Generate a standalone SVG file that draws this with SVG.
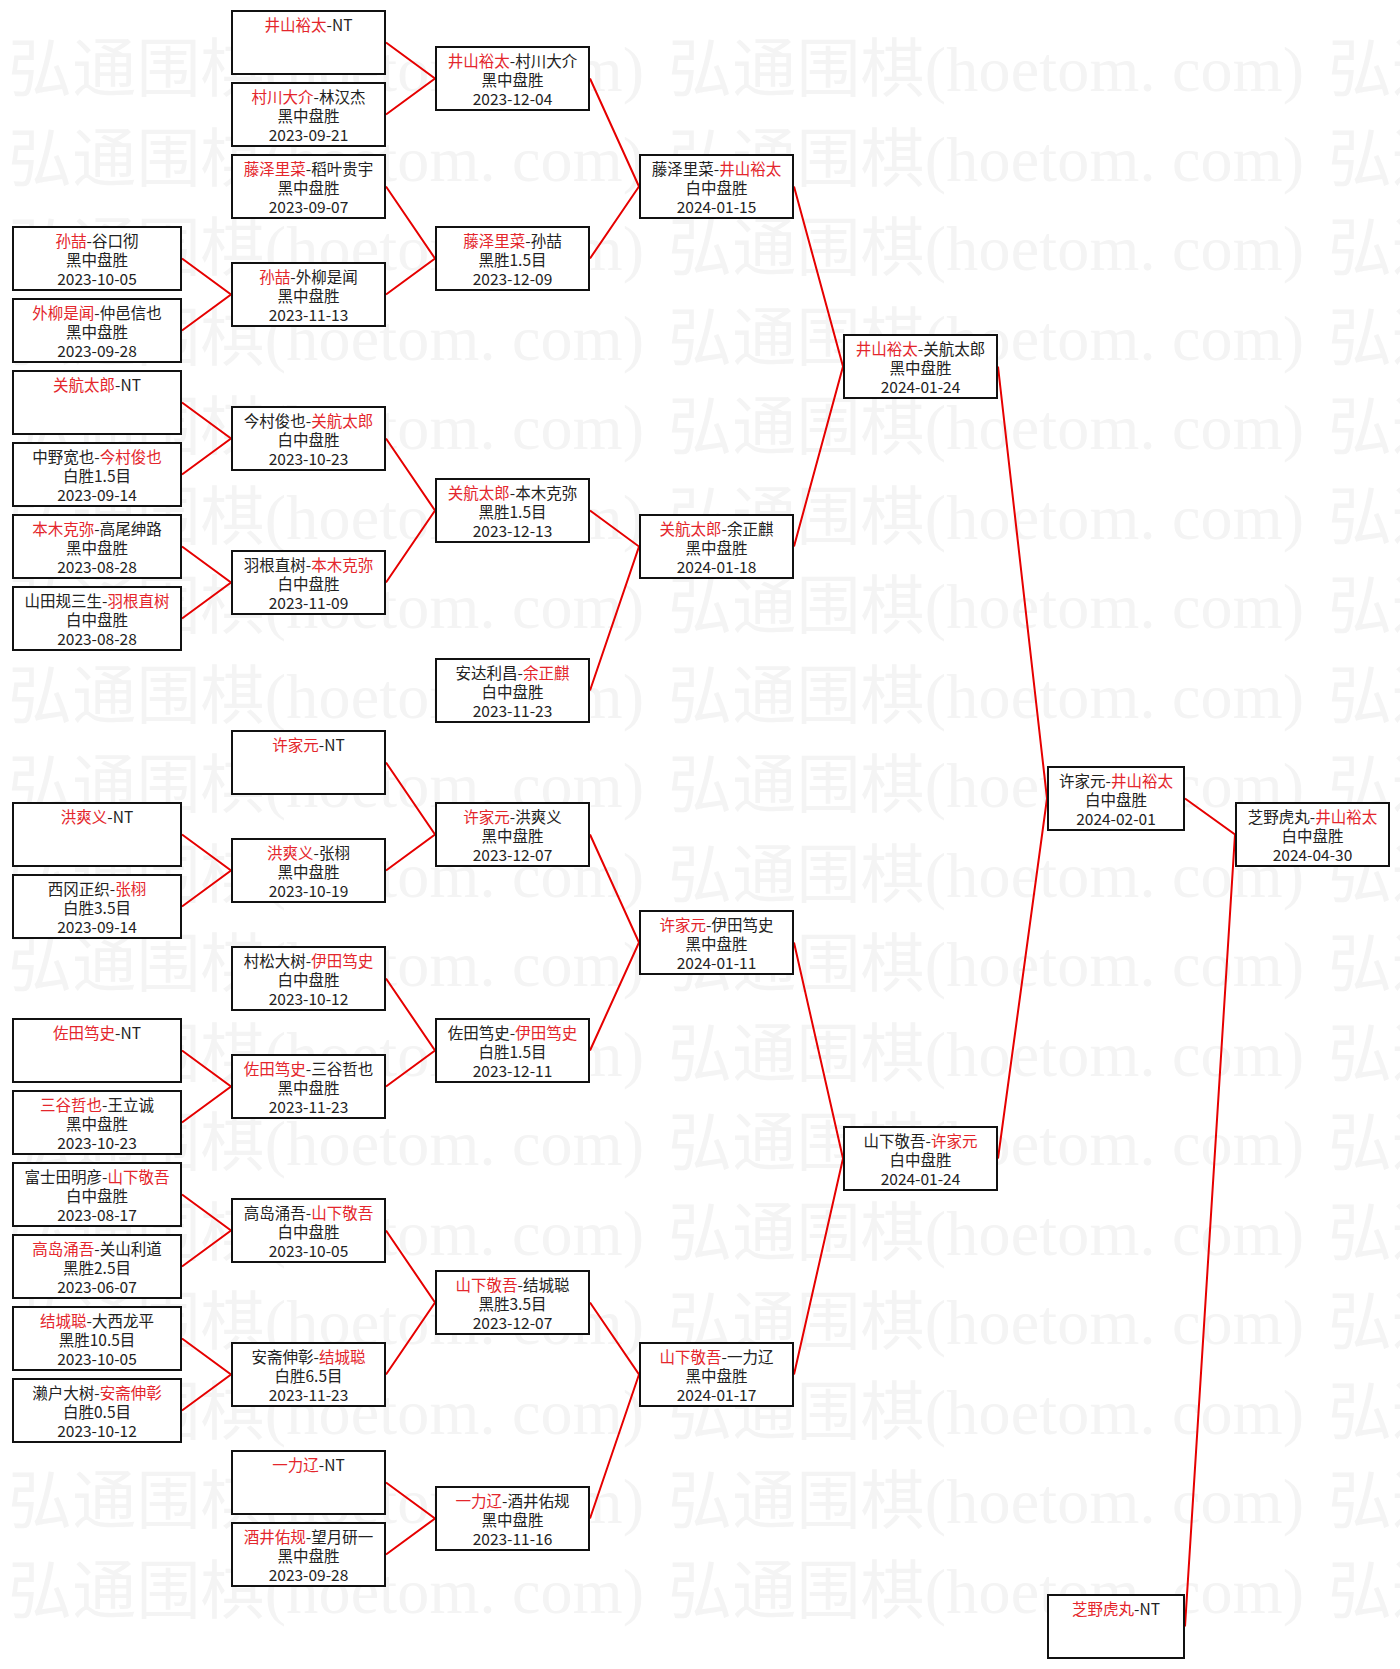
<svg xmlns="http://www.w3.org/2000/svg" width="1400" height="1669" viewBox="0 0 1400 1669">
<style>
.wm{font-family:"Liberation Serif","Noto Sans CJK SC",serif;font-size:64px;fill:#f4f4f4}
.node rect{fill:#fff;stroke:#111;stroke-width:2}
.node text{font-family:"Noto Sans CJK SC","Noto Sans",sans-serif;font-size:15.5px;fill:#222;text-anchor:middle}
.node .r{fill:#e4262c}
.links path{fill:none;stroke:#e60000;stroke-width:2}
</style>
<rect x="0" y="0" width="1400" height="1669" fill="#fff"/>
<g id="watermark" class="wm">
<text y="91"><tspan x="8" textLength="636" lengthAdjust="spacing">弘通围棋(hoetom. com)</tspan><tspan x="668" textLength="636" lengthAdjust="spacing">弘通围棋(hoetom. com)</tspan><tspan x="1328">弘通</tspan></text>
<text y="180.5"><tspan x="8" textLength="636" lengthAdjust="spacing">弘通围棋(hoetom. com)</tspan><tspan x="668" textLength="636" lengthAdjust="spacing">弘通围棋(hoetom. com)</tspan><tspan x="1328">弘通</tspan></text>
<text y="270"><tspan x="8" textLength="636" lengthAdjust="spacing">弘通围棋(hoetom. com)</tspan><tspan x="668" textLength="636" lengthAdjust="spacing">弘通围棋(hoetom. com)</tspan><tspan x="1328">弘通</tspan></text>
<text y="359.5"><tspan x="8" textLength="636" lengthAdjust="spacing">弘通围棋(hoetom. com)</tspan><tspan x="668" textLength="636" lengthAdjust="spacing">弘通围棋(hoetom. com)</tspan><tspan x="1328">弘通</tspan></text>
<text y="449"><tspan x="8" textLength="636" lengthAdjust="spacing">弘通围棋(hoetom. com)</tspan><tspan x="668" textLength="636" lengthAdjust="spacing">弘通围棋(hoetom. com)</tspan><tspan x="1328">弘通</tspan></text>
<text y="538.5"><tspan x="8" textLength="636" lengthAdjust="spacing">弘通围棋(hoetom. com)</tspan><tspan x="668" textLength="636" lengthAdjust="spacing">弘通围棋(hoetom. com)</tspan><tspan x="1328">弘通</tspan></text>
<text y="628"><tspan x="8" textLength="636" lengthAdjust="spacing">弘通围棋(hoetom. com)</tspan><tspan x="668" textLength="636" lengthAdjust="spacing">弘通围棋(hoetom. com)</tspan><tspan x="1328">弘通</tspan></text>
<text y="717.5"><tspan x="8" textLength="636" lengthAdjust="spacing">弘通围棋(hoetom. com)</tspan><tspan x="668" textLength="636" lengthAdjust="spacing">弘通围棋(hoetom. com)</tspan><tspan x="1328">弘通</tspan></text>
<text y="807"><tspan x="8" textLength="636" lengthAdjust="spacing">弘通围棋(hoetom. com)</tspan><tspan x="668" textLength="636" lengthAdjust="spacing">弘通围棋(hoetom. com)</tspan><tspan x="1328">弘通</tspan></text>
<text y="896.5"><tspan x="8" textLength="636" lengthAdjust="spacing">弘通围棋(hoetom. com)</tspan><tspan x="668" textLength="636" lengthAdjust="spacing">弘通围棋(hoetom. com)</tspan><tspan x="1328">弘通</tspan></text>
<text y="986"><tspan x="8" textLength="636" lengthAdjust="spacing">弘通围棋(hoetom. com)</tspan><tspan x="668" textLength="636" lengthAdjust="spacing">弘通围棋(hoetom. com)</tspan><tspan x="1328">弘通</tspan></text>
<text y="1075.5"><tspan x="8" textLength="636" lengthAdjust="spacing">弘通围棋(hoetom. com)</tspan><tspan x="668" textLength="636" lengthAdjust="spacing">弘通围棋(hoetom. com)</tspan><tspan x="1328">弘通</tspan></text>
<text y="1165"><tspan x="8" textLength="636" lengthAdjust="spacing">弘通围棋(hoetom. com)</tspan><tspan x="668" textLength="636" lengthAdjust="spacing">弘通围棋(hoetom. com)</tspan><tspan x="1328">弘通</tspan></text>
<text y="1254.5"><tspan x="8" textLength="636" lengthAdjust="spacing">弘通围棋(hoetom. com)</tspan><tspan x="668" textLength="636" lengthAdjust="spacing">弘通围棋(hoetom. com)</tspan><tspan x="1328">弘通</tspan></text>
<text y="1344"><tspan x="8" textLength="636" lengthAdjust="spacing">弘通围棋(hoetom. com)</tspan><tspan x="668" textLength="636" lengthAdjust="spacing">弘通围棋(hoetom. com)</tspan><tspan x="1328">弘通</tspan></text>
<text y="1433.5"><tspan x="8" textLength="636" lengthAdjust="spacing">弘通围棋(hoetom. com)</tspan><tspan x="668" textLength="636" lengthAdjust="spacing">弘通围棋(hoetom. com)</tspan><tspan x="1328">弘通</tspan></text>
<text y="1523"><tspan x="8" textLength="636" lengthAdjust="spacing">弘通围棋(hoetom. com)</tspan><tspan x="668" textLength="636" lengthAdjust="spacing">弘通围棋(hoetom. com)</tspan><tspan x="1328">弘通</tspan></text>
<text y="1612.5"><tspan x="8" textLength="636" lengthAdjust="spacing">弘通围棋(hoetom. com)</tspan><tspan x="668" textLength="636" lengthAdjust="spacing">弘通围棋(hoetom. com)</tspan><tspan x="1328">弘通</tspan></text>
</g>
<g id="connectors" class="links">
<path d="M182 258.5L231 294.5L182 330.5"/>
<path d="M182 402.5L231 438.5L182 474.5"/>
<path d="M182 546.5L231 582.5L182 618.5"/>
<path d="M182 834.5L231 870.5L182 906.5"/>
<path d="M182 1050.5L231 1086.5L182 1122.5"/>
<path d="M182 1194.5L231 1230.5L182 1266.5"/>
<path d="M182 1338.5L231 1374.5L182 1410.5"/>
<path d="M386 42.5L435 78.5L386 114.5"/>
<path d="M386 186.5L435 258.5L386 294.5"/>
<path d="M386 438.5L435 510.5L386 582.5"/>
<path d="M386 762.5L435 834.5L386 870.5"/>
<path d="M386 978.5L435 1050.5L386 1086.5"/>
<path d="M386 1230.5L435 1302.5L386 1374.5"/>
<path d="M386 1482.5L435 1518.5L386 1554.5"/>
<path d="M590 78.5L639 186.5L590 258.5"/>
<path d="M590 510.5L639 546.5L590 690.5"/>
<path d="M590 834.5L639 942.5L590 1050.5"/>
<path d="M590 1302.5L639 1374.5L590 1518.5"/>
<path d="M794 186.5L843 366.5L794 546.5"/>
<path d="M794 942.5L843 1158.5L794 1374.5"/>
<path d="M998 366.5L1047 798.5L998 1158.5"/>
<path d="M1185 798.5L1235 834.5L1185 1626.5"/>
</g>
<!-- column 0 -->
<g id="c0-1" class="node"><rect x="13" y="227" width="168" height="63"/><text x="97" y="246.5"><tspan class="r">孙喆</tspan>-谷口彻</text><text x="97" y="265.5">黑中盘胜</text><text x="97" y="284.5">2023-10-05</text></g>
<g id="c0-2" class="node"><rect x="13" y="299" width="168" height="63"/><text x="97" y="318.5"><tspan class="r">外柳是闻</tspan>-仲邑信也</text><text x="97" y="337.5">黑中盘胜</text><text x="97" y="356.5">2023-09-28</text></g>
<g id="c0-3" class="node"><rect x="13" y="371" width="168" height="63"/><text x="97" y="390.5"><tspan class="r">关航太郎</tspan>-NT</text></g>
<g id="c0-4" class="node"><rect x="13" y="443" width="168" height="63"/><text x="97" y="462.5">中野宽也-<tspan class="r">今村俊也</tspan></text><text x="97" y="481.5">白胜1.5目</text><text x="97" y="500.5">2023-09-14</text></g>
<g id="c0-5" class="node"><rect x="13" y="515" width="168" height="63"/><text x="97" y="534.5"><tspan class="r">本木克弥</tspan>-高尾绅路</text><text x="97" y="553.5">黑中盘胜</text><text x="97" y="572.5">2023-08-28</text></g>
<g id="c0-6" class="node"><rect x="13" y="587" width="168" height="63"/><text x="97" y="606.5">山田规三生-<tspan class="r">羽根直树</tspan></text><text x="97" y="625.5">白中盘胜</text><text x="97" y="644.5">2023-08-28</text></g>
<g id="c0-7" class="node"><rect x="13" y="803" width="168" height="63"/><text x="97" y="822.5"><tspan class="r">洪爽义</tspan>-NT</text></g>
<g id="c0-8" class="node"><rect x="13" y="875" width="168" height="63"/><text x="97" y="894.5">西冈正织-<tspan class="r">张栩</tspan></text><text x="97" y="913.5">白胜3.5目</text><text x="97" y="932.5">2023-09-14</text></g>
<g id="c0-9" class="node"><rect x="13" y="1019" width="168" height="63"/><text x="97" y="1038.5"><tspan class="r">佐田笃史</tspan>-NT</text></g>
<g id="c0-10" class="node"><rect x="13" y="1091" width="168" height="63"/><text x="97" y="1110.5"><tspan class="r">三谷哲也</tspan>-王立诚</text><text x="97" y="1129.5">黑中盘胜</text><text x="97" y="1148.5">2023-10-23</text></g>
<g id="c0-11" class="node"><rect x="13" y="1163" width="168" height="63"/><text x="97" y="1182.5">富士田明彦-<tspan class="r">山下敬吾</tspan></text><text x="97" y="1201.5">白中盘胜</text><text x="97" y="1220.5">2023-08-17</text></g>
<g id="c0-12" class="node"><rect x="13" y="1235" width="168" height="63"/><text x="97" y="1254.5"><tspan class="r">高岛涌吾</tspan>-关山利道</text><text x="97" y="1273.5">黑胜2.5目</text><text x="97" y="1292.5">2023-06-07</text></g>
<g id="c0-13" class="node"><rect x="13" y="1307" width="168" height="63"/><text x="97" y="1326.5"><tspan class="r">结城聪</tspan>-大西龙平</text><text x="97" y="1345.5">黑胜10.5目</text><text x="97" y="1364.5">2023-10-05</text></g>
<g id="c0-14" class="node"><rect x="13" y="1379" width="168" height="63"/><text x="97" y="1398.5">濑户大树-<tspan class="r">安斋伸彰</tspan></text><text x="97" y="1417.5">白胜0.5目</text><text x="97" y="1436.5">2023-10-12</text></g>
<!-- column 1 -->
<g id="c1-1" class="node"><rect x="232" y="11" width="153" height="63"/><text x="308.5" y="30.5"><tspan class="r">井山裕太</tspan>-NT</text></g>
<g id="c1-2" class="node"><rect x="232" y="83" width="153" height="63"/><text x="308.5" y="102.5"><tspan class="r">村川大介</tspan>-林汉杰</text><text x="308.5" y="121.5">黑中盘胜</text><text x="308.5" y="140.5">2023-09-21</text></g>
<g id="c1-3" class="node"><rect x="232" y="155" width="153" height="63"/><text x="308.5" y="174.5"><tspan class="r">藤泽里菜</tspan>-稻叶贵宇</text><text x="308.5" y="193.5">黑中盘胜</text><text x="308.5" y="212.5">2023-09-07</text></g>
<g id="c1-4" class="node"><rect x="232" y="263" width="153" height="63"/><text x="308.5" y="282.5"><tspan class="r">孙喆</tspan>-外柳是闻</text><text x="308.5" y="301.5">黑中盘胜</text><text x="308.5" y="320.5">2023-11-13</text></g>
<g id="c1-5" class="node"><rect x="232" y="407" width="153" height="63"/><text x="308.5" y="426.5">今村俊也-<tspan class="r">关航太郎</tspan></text><text x="308.5" y="445.5">白中盘胜</text><text x="308.5" y="464.5">2023-10-23</text></g>
<g id="c1-6" class="node"><rect x="232" y="551" width="153" height="63"/><text x="308.5" y="570.5">羽根直树-<tspan class="r">本木克弥</tspan></text><text x="308.5" y="589.5">白中盘胜</text><text x="308.5" y="608.5">2023-11-09</text></g>
<g id="c1-7" class="node"><rect x="232" y="731" width="153" height="63"/><text x="308.5" y="750.5"><tspan class="r">许家元</tspan>-NT</text></g>
<g id="c1-8" class="node"><rect x="232" y="839" width="153" height="63"/><text x="308.5" y="858.5"><tspan class="r">洪爽义</tspan>-张栩</text><text x="308.5" y="877.5">黑中盘胜</text><text x="308.5" y="896.5">2023-10-19</text></g>
<g id="c1-9" class="node"><rect x="232" y="947" width="153" height="63"/><text x="308.5" y="966.5">村松大树-<tspan class="r">伊田笃史</tspan></text><text x="308.5" y="985.5">白中盘胜</text><text x="308.5" y="1004.5">2023-10-12</text></g>
<g id="c1-10" class="node"><rect x="232" y="1055" width="153" height="63"/><text x="308.5" y="1074.5"><tspan class="r">佐田笃史</tspan>-三谷哲也</text><text x="308.5" y="1093.5">黑中盘胜</text><text x="308.5" y="1112.5">2023-11-23</text></g>
<g id="c1-11" class="node"><rect x="232" y="1199" width="153" height="63"/><text x="308.5" y="1218.5">高岛涌吾-<tspan class="r">山下敬吾</tspan></text><text x="308.5" y="1237.5">白中盘胜</text><text x="308.5" y="1256.5">2023-10-05</text></g>
<g id="c1-12" class="node"><rect x="232" y="1343" width="153" height="63"/><text x="308.5" y="1362.5">安斋伸彰-<tspan class="r">结城聪</tspan></text><text x="308.5" y="1381.5">白胜6.5目</text><text x="308.5" y="1400.5">2023-11-23</text></g>
<g id="c1-13" class="node"><rect x="232" y="1451" width="153" height="63"/><text x="308.5" y="1470.5"><tspan class="r">一力辽</tspan>-NT</text></g>
<g id="c1-14" class="node"><rect x="232" y="1523" width="153" height="63"/><text x="308.5" y="1542.5"><tspan class="r">酒井佑规</tspan>-望月研一</text><text x="308.5" y="1561.5">黑中盘胜</text><text x="308.5" y="1580.5">2023-09-28</text></g>
<!-- column 2 -->
<g id="c2-1" class="node"><rect x="436" y="47" width="153" height="63"/><text x="512.5" y="66.5"><tspan class="r">井山裕太</tspan>-村川大介</text><text x="512.5" y="85.5">黑中盘胜</text><text x="512.5" y="104.5">2023-12-04</text></g>
<g id="c2-2" class="node"><rect x="436" y="227" width="153" height="63"/><text x="512.5" y="246.5"><tspan class="r">藤泽里菜</tspan>-孙喆</text><text x="512.5" y="265.5">黑胜1.5目</text><text x="512.5" y="284.5">2023-12-09</text></g>
<g id="c2-3" class="node"><rect x="436" y="479" width="153" height="63"/><text x="512.5" y="498.5"><tspan class="r">关航太郎</tspan>-本木克弥</text><text x="512.5" y="517.5">黑胜1.5目</text><text x="512.5" y="536.5">2023-12-13</text></g>
<g id="c2-4" class="node"><rect x="436" y="659" width="153" height="63"/><text x="512.5" y="678.5">安达利昌-<tspan class="r">余正麒</tspan></text><text x="512.5" y="697.5">白中盘胜</text><text x="512.5" y="716.5">2023-11-23</text></g>
<g id="c2-5" class="node"><rect x="436" y="803" width="153" height="63"/><text x="512.5" y="822.5"><tspan class="r">许家元</tspan>-洪爽义</text><text x="512.5" y="841.5">黑中盘胜</text><text x="512.5" y="860.5">2023-12-07</text></g>
<g id="c2-6" class="node"><rect x="436" y="1019" width="153" height="63"/><text x="512.5" y="1038.5">佐田笃史-<tspan class="r">伊田笃史</tspan></text><text x="512.5" y="1057.5">白胜1.5目</text><text x="512.5" y="1076.5">2023-12-11</text></g>
<g id="c2-7" class="node"><rect x="436" y="1271" width="153" height="63"/><text x="512.5" y="1290.5"><tspan class="r">山下敬吾</tspan>-结城聪</text><text x="512.5" y="1309.5">黑胜3.5目</text><text x="512.5" y="1328.5">2023-12-07</text></g>
<g id="c2-8" class="node"><rect x="436" y="1487" width="153" height="63"/><text x="512.5" y="1506.5"><tspan class="r">一力辽</tspan>-酒井佑规</text><text x="512.5" y="1525.5">黑中盘胜</text><text x="512.5" y="1544.5">2023-11-16</text></g>
<!-- column 3 -->
<g id="c3-1" class="node"><rect x="640" y="155" width="153" height="63"/><text x="716.5" y="174.5">藤泽里菜-<tspan class="r">井山裕太</tspan></text><text x="716.5" y="193.5">白中盘胜</text><text x="716.5" y="212.5">2024-01-15</text></g>
<g id="c3-2" class="node"><rect x="640" y="515" width="153" height="63"/><text x="716.5" y="534.5"><tspan class="r">关航太郎</tspan>-余正麒</text><text x="716.5" y="553.5">黑中盘胜</text><text x="716.5" y="572.5">2024-01-18</text></g>
<g id="c3-3" class="node"><rect x="640" y="911" width="153" height="63"/><text x="716.5" y="930.5"><tspan class="r">许家元</tspan>-伊田笃史</text><text x="716.5" y="949.5">黑中盘胜</text><text x="716.5" y="968.5">2024-01-11</text></g>
<g id="c3-4" class="node"><rect x="640" y="1343" width="153" height="63"/><text x="716.5" y="1362.5"><tspan class="r">山下敬吾</tspan>-一力辽</text><text x="716.5" y="1381.5">黑中盘胜</text><text x="716.5" y="1400.5">2024-01-17</text></g>
<!-- column 4 -->
<g id="c4-1" class="node"><rect x="844" y="335" width="153" height="63"/><text x="920.5" y="354.5"><tspan class="r">井山裕太</tspan>-关航太郎</text><text x="920.5" y="373.5">黑中盘胜</text><text x="920.5" y="392.5">2024-01-24</text></g>
<g id="c4-2" class="node"><rect x="844" y="1127" width="153" height="63"/><text x="920.5" y="1146.5">山下敬吾-<tspan class="r">许家元</tspan></text><text x="920.5" y="1165.5">白中盘胜</text><text x="920.5" y="1184.5">2024-01-24</text></g>
<!-- column 5 -->
<g id="c5-1" class="node"><rect x="1048" y="767" width="136" height="63"/><text x="1116" y="786.5">许家元-<tspan class="r">井山裕太</tspan></text><text x="1116" y="805.5">白中盘胜</text><text x="1116" y="824.5">2024-02-01</text></g>
<g id="c5-2" class="node"><rect x="1048" y="1595" width="136" height="63"/><text x="1116" y="1614.5"><tspan class="r">芝野虎丸</tspan>-NT</text></g>
<!-- column 6 -->
<g id="c6-1" class="node"><rect x="1236" y="803" width="153" height="63"/><text x="1312.5" y="822.5">芝野虎丸-<tspan class="r">井山裕太</tspan></text><text x="1312.5" y="841.5">白中盘胜</text><text x="1312.5" y="860.5">2024-04-30</text></g>
</svg>
